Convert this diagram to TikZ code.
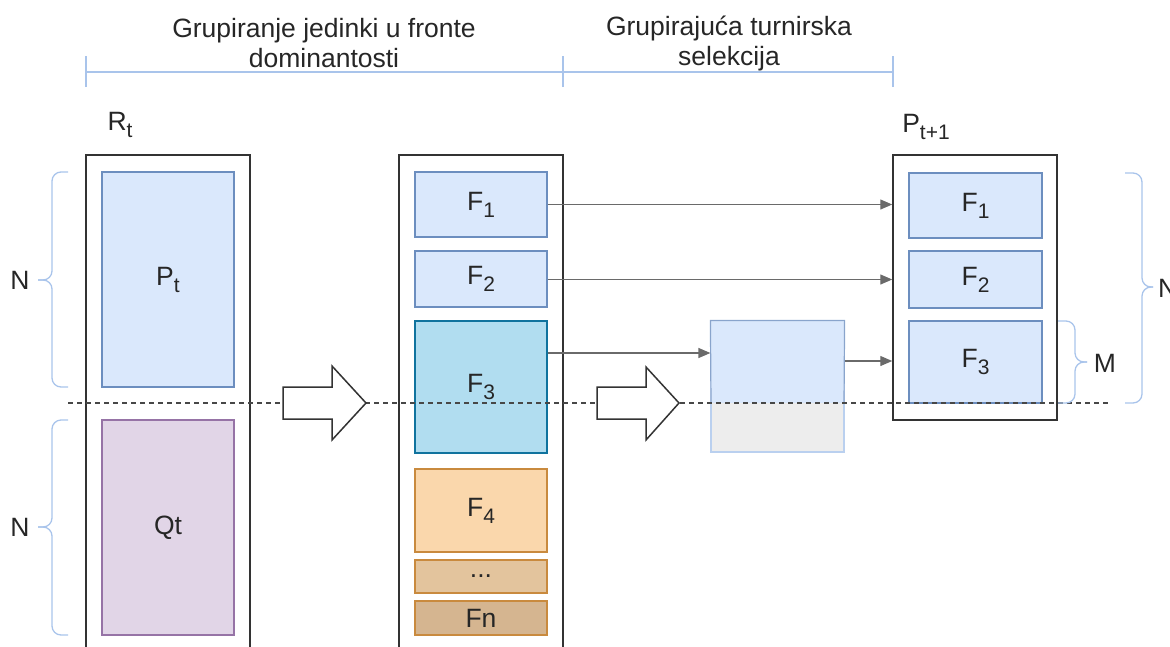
\documentclass[tikz,border=0pt]{standalone}
\usepackage{fontspec}
\setmainfont{Liberation Sans}
\usetikzlibrary{arrows.meta}
\definecolor{txt}{HTML}{262626}
\definecolor{bluef}{HTML}{DAE8FC}
\definecolor{blues}{HTML}{6C8EBF}
\definecolor{purf}{HTML}{E1D5E7}
\definecolor{purs}{HTML}{9673A6}
\definecolor{cyanf}{HTML}{B1DDF0}
\definecolor{cyans}{HTML}{10739E}
\definecolor{orf}{HTML}{FAD7AC}
\definecolor{ors}{HTML}{C98A3E}
\definecolor{dotf}{HTML}{E3C49D}
\definecolor{fnf}{HTML}{D5B590}
\definecolor{brc}{HTML}{A9C4EB}
\definecolor{arr}{HTML}{6A6A6A}
\definecolor{frame}{HTML}{333333}
\newcommand\sbs[1]{\raisebox{-0.5ex}{\fontsize{21}{21}\selectfont #1}}
\begin{document}
\begin{tikzpicture}[x=1pt,y=-1pt,
  every node/.style={font=\fontsize{26.5}{30}\selectfont, text=txt, inner sep=0pt},
  outer/.style={draw=frame, line width=1.5pt, fill=white},
  inbox/.style={line width=1.2pt},
  bluebox/.style={inbox, fill=bluef, draw=blues},
  conn/.style={draw=arr, line width=1.3pt, -{Triangle[length=12pt,width=10pt]}},
  brace/.style={draw=brc, line width=1.3pt, rounded corners=9pt},
  hollow/.style={draw=frame, line width=1.5pt, fill=white, line join=miter},
  sepline/.style={draw=frame!90, line width=1.6pt, dash pattern=on 4.5pt off 4.5pt}]
\useasboundingbox (0,0) rectangle (1170,646);

% titles and dimension line
\node[align=center] (t1) at (324,43) {Grupiranje jedinki u fronte\\dominantosti};
\node[align=center] (t2) at (729,43) {Grupirajuća turnirska\\selekcija};
\coordinate (d0) at (86,72);
\coordinate (d1) at (563,72);
\coordinate (d2) at (893,72);
\draw[brc, line width=1.2pt] (d0) -- (d2);
\foreach \p in {d0,d1,d2} \draw[brc, line width=1.2pt] ([yshift=-15pt]\p) -- ([yshift=16pt]\p);

% labels above boxes
\node (rt) at (120,125) {R\sbs{t}};
\node (pt1) at (926,127) {P\sbs{t+1}};

% outer frames
\draw[outer] (86,155) rectangle (250,660);
\draw[outer] (399,155) rectangle (563,660);
\node[outer, minimum width=164pt, minimum height=265pt] (right) at (975,287.5) {};

% left column
\node[inbox, fill=bluef, draw=blues, minimum width=132pt, minimum height=215pt] (Pt) at (168,279.5) {P\sbs{t}};
\node[inbox, fill=purf, draw=purs, minimum width=132pt, minimum height=215pt] (Qt) at (168,527.5) {Qt};

% middle column
\node[bluebox, minimum width=132pt, minimum height=65pt] (mF1) at (481,204.5) {F\sbs{1}};
\node[bluebox, minimum width=132pt, minimum height=56pt] (mF2) at (481,279) {F\sbs{2}};
\node[inbox, fill=cyanf, draw=cyans, minimum width=132pt, minimum height=132pt] (mF3) at (481,387) {F\sbs{3}};
\node[inbox, fill=orf, draw=ors, minimum width=132pt, minimum height=83pt] (mF4) at (481,510.5) {F\sbs{4}};
\node[inbox, fill=dotf, draw=ors, minimum width=132pt, minimum height=33pt] (mdots) at (481,576.5) {...};
\node[inbox, fill=fnf, draw=ors, minimum width=132pt, minimum height=34pt] (mFn) at (481,618) {Fn};

% selection box
\node[line width=1.2pt, fill=black!7, draw=brc!80, minimum width=133pt, minimum height=131pt] (sel) at (777.5,386.5) {};
\fill[bluef] (sel.north west) rectangle (844,403);
\draw[blues!80, line width=1.2pt] (711,403) -- (sel.north west) -- (sel.north east) -- (844,403);

% right column
\node[bluebox, minimum width=133pt, minimum height=65pt] (rF1) at (975.5,205.5) {F\sbs{1}};
\node[bluebox, minimum width=133pt, minimum height=57pt] (rF2) at (975.5,279.5) {F\sbs{2}};
\node[bluebox, minimum width=133pt, minimum height=82pt] (rF3) at (975.5,362) {F\sbs{3}};

% dashed separator
\coordinate (ds) at (68,403);
\coordinate (de) at (1108,403);
\draw[sepline] (ds) -- (de);

% hollow arrows
\draw[hollow] (283,387) -- (332,387) -- (332,366) -- (366,403) -- (332,440) -- (332,419) -- (283,419) -- cycle;
\draw[hollow] (597,387) -- (646,387) -- (646,367) -- (679,403) -- (646,440) -- (646,419) -- (597,419) -- cycle;

% connectors
\draw[conn] (mF1.east) -- (right.west |- mF1.east);
\draw[conn] (mF2.east |- rF2.west) -- (right.west |- rF2.west);
\draw[conn] (mF3.east |- 0,353) -- (sel.west |- 0,353);
\draw[conn] (sel.east |- 0,361) -- (right.west |- 0,361);

% braces
\draw[brace] (68,172) -| (52,280) -- (38,280);
\draw[brace] (68,387) -| (52,280) -- (38,280);
\draw[brace] (68,420) -| (52,527) -- (38,527);
\draw[brace] (68,635) -| (52,527) -- (38,527);
\node (nl1) at (20,280) {N};
\node (nl2) at (20,527) {N};

\draw[brace] (1058,321) -| (1075,362) -- (1087,362);
\draw[brace] (1058,403) -| (1075,362) -- (1087,362);
\node (ml) at (1105,363) {M};

\draw[brace] (1125,173) -| (1142,287) -- (1153,287);
\draw[brace] (1125,403) -| (1142,287) -- (1153,287);
\node[anchor=west] (nr) at (1158,288) {N};
\end{tikzpicture}
\end{document}
